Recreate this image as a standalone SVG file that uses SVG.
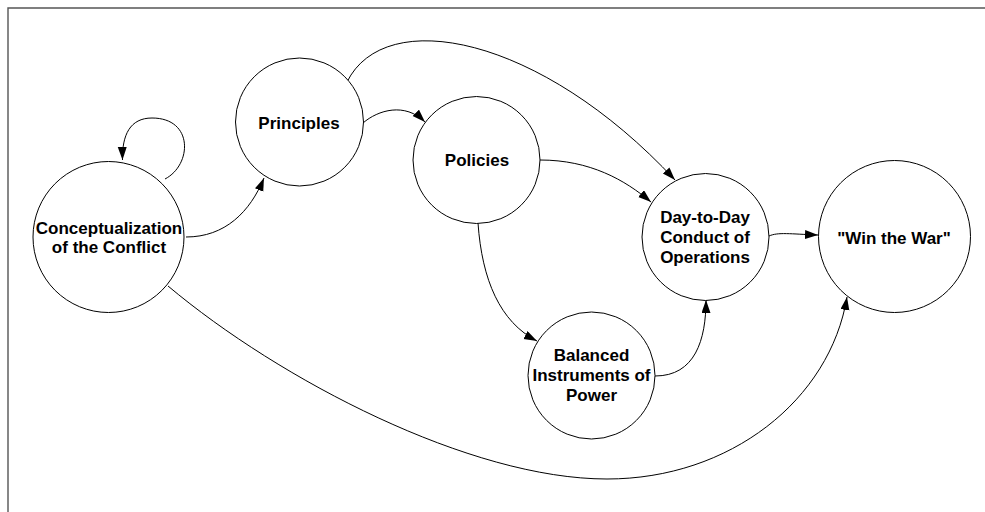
<svg xmlns="http://www.w3.org/2000/svg" width="985" height="512" viewBox="0 0 985 512">
<style>
.node circle{fill:#fff;stroke:#000;stroke-width:1}
.node text{font-family:"Liberation Sans",Arial,sans-serif;font-weight:bold;font-size:17px;text-anchor:middle;fill:#000}
.edge{fill:none;stroke:#000;stroke-width:1;marker-end:url(#arrow)}
.frame{fill:none;stroke:#555;stroke-width:1.4}
</style>
<defs>
<marker id="arrow" markerUnits="userSpaceOnUse" markerWidth="14" markerHeight="10" refX="13" refY="4.5" orient="auto">
<path d="M0,0 L13,4.5 L0,9 z" fill="#000"/>
</marker>
</defs>
<rect width="985" height="512" fill="#fff"/>
<path class="frame" d="M8,512 L8,8 L985,8"/>
<g id="connectors">
<path class="edge" d="M165,179 C192,165 194,118 152,118 C130,118 122,135 122.5,160"/>
<path class="edge" d="M186,237 C225,237 250,212 264,178"/>
<path class="edge" d="M363,123 C378,110 405,102 425,122"/>
<path class="edge" d="M347,82 C385,5 540,35 675,180"/>
<path class="edge" d="M540,160 C590,160 625,180 651,202"/>
<path class="edge" d="M478,223 C482,280 500,322 537,341"/>
<path class="edge" d="M655,376 C695,376 706,340 706,300"/>
<path class="edge" d="M769,236 C778,232 790,234 818,235"/>
<path class="edge" d="M168,286 C280,380 470,479 607,479 C730,479 830,400 847,297"/>
</g>
<g id="node-conceptualization" class="node">
<circle cx="108.5" cy="237" r="75.5"/>
<text x="109" y="233.5">Conceptualization</text>
<text x="109" y="252.5">of the Conflict</text>
</g>
<g id="node-principles" class="node">
<circle cx="299.5" cy="122" r="64"/>
<text x="299" y="128.5">Principles</text>
</g>
<g id="node-policies" class="node">
<circle cx="476.5" cy="160" r="63.5"/>
<text x="477" y="166">Policies</text>
</g>
<g id="node-daytoday" class="node">
<circle cx="705.5" cy="237" r="63.5"/>
<text x="705" y="222.5">Day-to-Day</text>
<text x="705" y="242.5">Conduct of</text>
<text x="705" y="262.5">Operations</text>
</g>
<g id="node-winthewar" class="node">
<circle cx="894.5" cy="236.5" r="76"/>
<text x="894" y="244">"Win the War"</text>
</g>
<g id="node-balanced" class="node">
<circle cx="591.5" cy="375.5" r="63.5"/>
<text x="591.5" y="361">Balanced</text>
<text x="591.5" y="381">Instruments of</text>
<text x="591.5" y="401">Power</text>
</g>
</svg>
